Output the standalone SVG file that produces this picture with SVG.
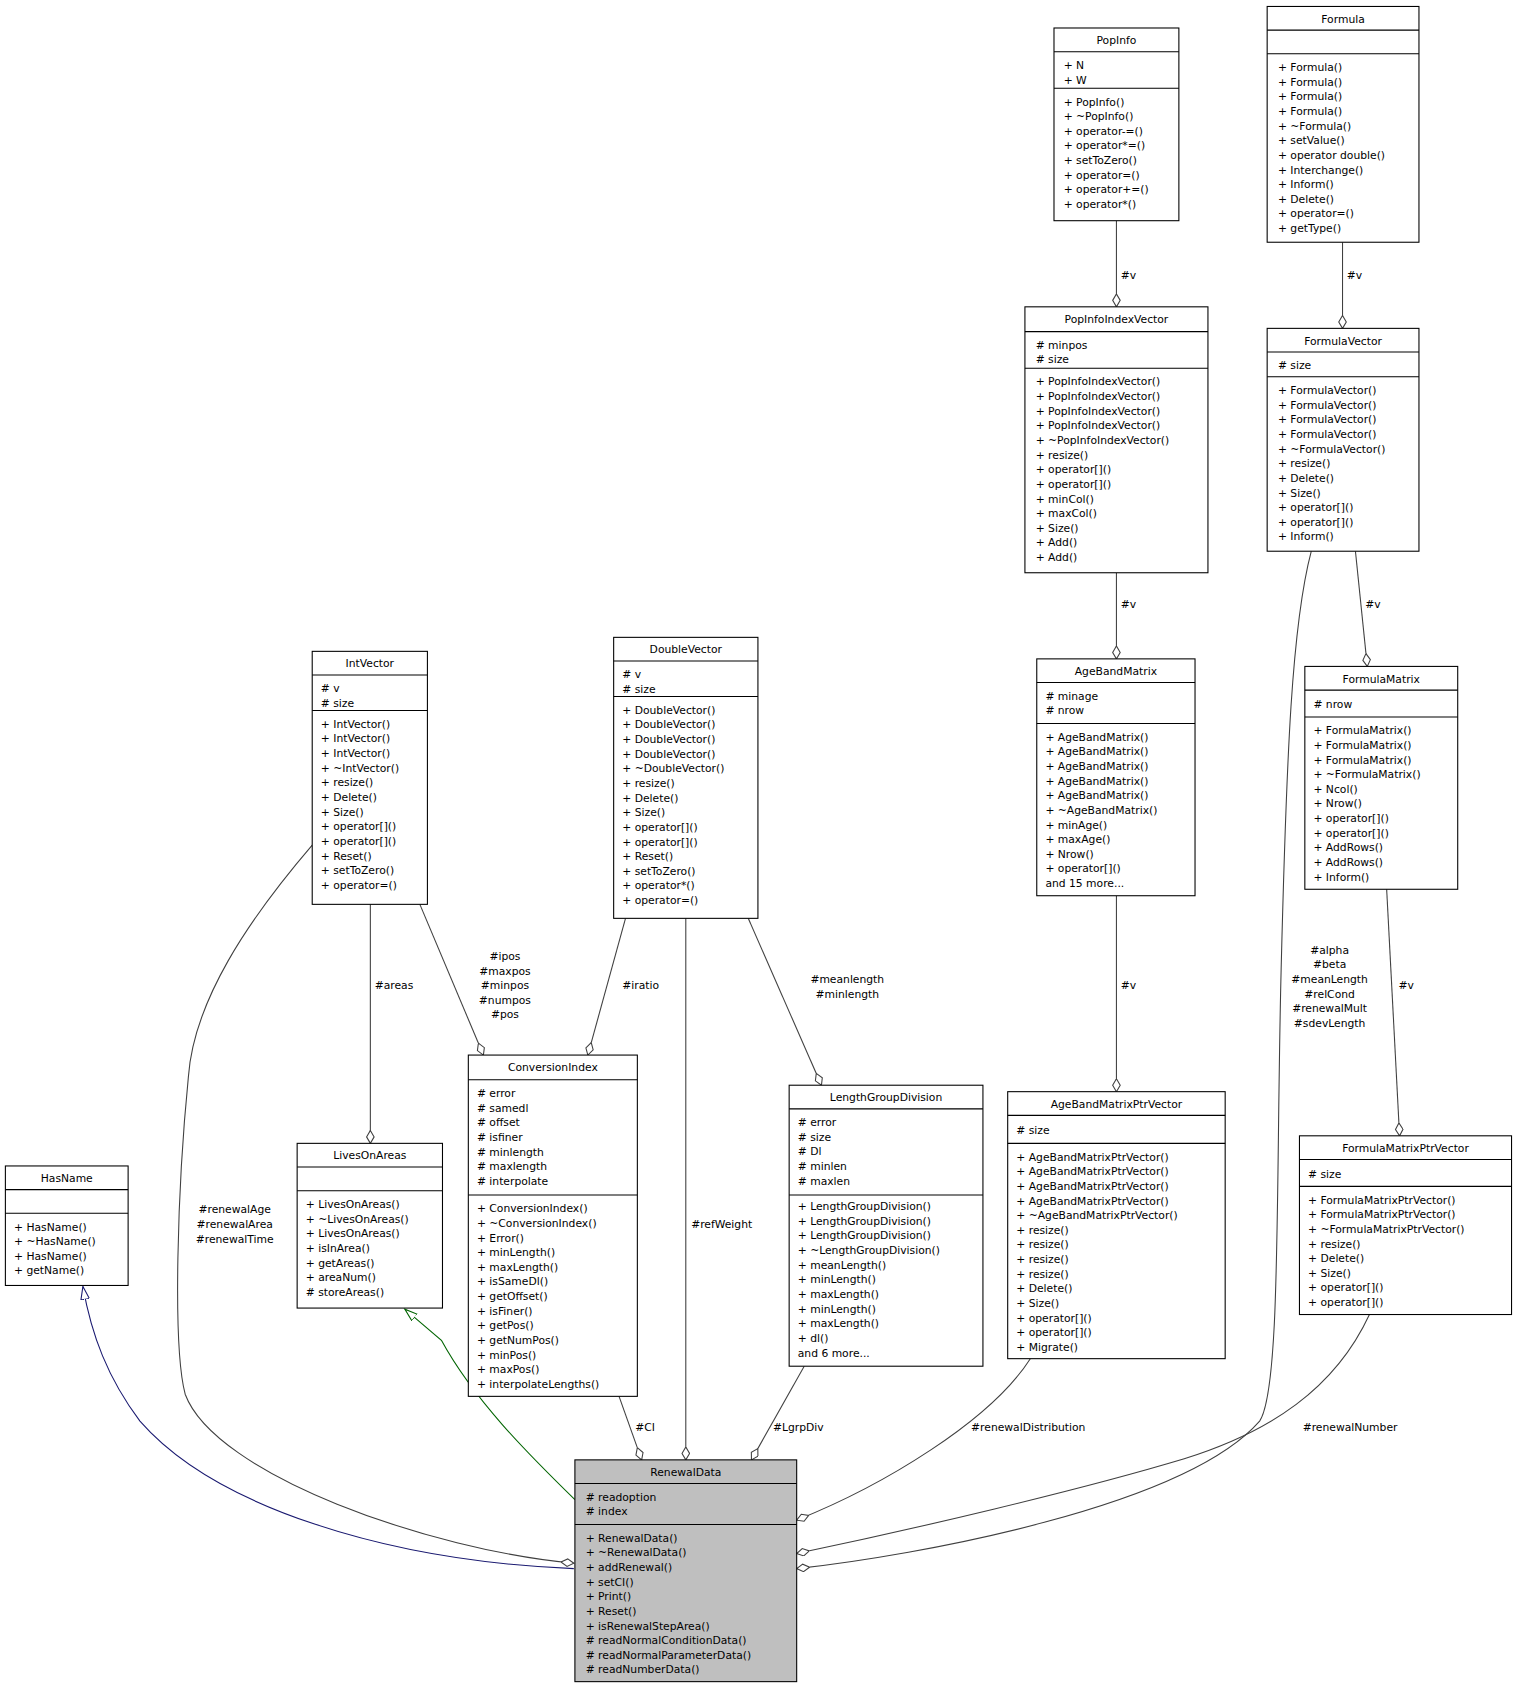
<svg xmlns="http://www.w3.org/2000/svg" width="1518" height="1689" viewBox="0 0 1518 1689">
<style>
text{font-family:"DejaVu Sans","Liberation Sans",sans-serif;font-size:10px;fill:#000}
.t{text-anchor:middle}
.b{fill:#fff;stroke:#000;stroke-width:1}
.g{fill:#bfbfbf}
.e{fill:none;stroke:#404040;stroke-width:1}
.l{text-anchor:middle}
</style>
<defs>
<marker id="d" markerUnits="userSpaceOnUse" markerWidth="14" markerHeight="10" refX="12" refY="4" orient="auto"><path d="M0,4 L6,0.5 L12,4 L6,7.5 z" fill="#fff" stroke="#404040"/></marker>
<marker id="tn" markerUnits="userSpaceOnUse" markerWidth="14" markerHeight="10" refX="12" refY="4.5" orient="auto"><path d="M0,0.5 L12,4.5 L0,8.5 z" fill="#fff" stroke="#191970"/></marker>
<marker id="tg" markerUnits="userSpaceOnUse" markerWidth="14" markerHeight="10" refX="12" refY="4.5" orient="auto"><path d="M0,0.5 L12,4.5 L0,8.5 z" fill="#fff" stroke="#006400"/></marker>
</defs>
<rect width="1518" height="1689" fill="#fff"/>
<g transform="scale(1.0766)">
<g id="edges">
<path d="M533,1457 C360,1450 200,1400 130,1320 C100,1280 85,1240 77,1195" fill="none" stroke="#191970" marker-end="url(#tn)"/>
<path d="M534,1393 C490,1350 440,1300 410,1245 L376,1216" fill="none" stroke="#006400" marker-end="url(#tg)"/>
<path class="e" d="M290,785 C230,855 180,930 175,1000 C165,1100 160,1250 172,1295 C200,1370 400,1440 533,1452" marker-end="url(#d)"/>
<text class="l" x="218" y="1127">#renewalAge</text><text class="l" x="218" y="1141">#renewalArea</text><text class="l" x="218" y="1155">#renewalTime</text>
<path class="e" d="M344,840 L344,1062" marker-end="url(#d)"/>
<text x="348" y="919">#areas</text>
<path class="e" d="M390,840 L449,980" marker-end="url(#d)"/>
<text class="l" x="469" y="892">#ipos</text><text class="l" x="469" y="906">#maxpos</text><text class="l" x="469" y="919">#minpos</text><text class="l" x="469" y="933">#numpos</text><text class="l" x="469" y="946">#pos</text>
<path class="e" d="M581,853 L546,980" marker-end="url(#d)"/>
<text x="578" y="919">#iratio</text>
<path class="e" d="M637,853 L637,1356" marker-end="url(#d)"/>
<text x="642" y="1141">#refWeight</text>
<path class="e" d="M695,853 L763,1008" marker-end="url(#d)"/>
<text class="l" x="787" y="913">#meanlength</text><text class="l" x="787" y="927">#minlength</text>
<path class="e" d="M575,1297 L596,1356" marker-end="url(#d)"/>
<text x="590" y="1329">#CI</text>
<path class="e" d="M747,1269 L698,1356" marker-end="url(#d)"/>
<text x="718" y="1329">#LgrpDiv</text>
<path class="e" d="M957,1262 C920,1320 820,1380 740,1412" marker-end="url(#d)"/>
<text x="902" y="1329">#renewalDistribution</text>
<path class="e" d="M1272,1221 C1240,1290 1180,1330 1100,1355 C1000,1385 850,1420 740,1443" marker-end="url(#d)"/>
<text x="1210" y="1329">#renewalNumber</text>
<path class="e" d="M1218,512 C1200,580 1195,700 1190,900 C1185,1100 1190,1290 1170,1320 C1100,1400 850,1445 740,1457" marker-end="url(#d)"/>
<text class="l" x="1235" y="886">#alpha</text><text class="l" x="1235" y="899">#beta</text><text class="l" x="1235" y="913">#meanLength</text><text class="l" x="1235" y="927">#relCond</text><text class="l" x="1235" y="940">#renewalMult</text><text class="l" x="1235" y="954">#sdevLength</text>
<path class="e" d="M1037,832 L1037,1014" marker-end="url(#d)"/>
<text x="1041" y="919">#v</text>
<path class="e" d="M1288,826 L1300,1055" marker-end="url(#d)"/>
<text x="1299" y="919">#v</text>
<path class="e" d="M1037,532 L1037,612" marker-end="url(#d)"/>
<text x="1041" y="565">#v</text>
<path class="e" d="M1259,512 L1270,619" marker-end="url(#d)"/>
<text x="1268" y="565">#v</text>
<path class="e" d="M1037,205 L1037,285" marker-end="url(#d)"/>
<text x="1041" y="259">#v</text>
<path class="e" d="M1247,225 L1247,305" marker-end="url(#d)"/>
<text x="1251" y="259">#v</text>
</g>

<g id="HasName">
<rect class="b" x="5" y="1083" width="114" height="111"/>
<path d="M5,1105 H119 M5,1127 H119" stroke="#000"/>
<text class="t" x="62" y="1098">HasName</text>
<text x="13" y="1143"><tspan x="13">+ HasName()</tspan><tspan x="13" dy="13.6">+ ~HasName()</tspan><tspan x="13" dy="13.6">+ HasName()</tspan><tspan x="13" dy="13.6">+ getName()</tspan></text>
</g>

<g id="LivesOnAreas">
<rect class="b" x="276" y="1062" width="135" height="153"/>
<path d="M276,1084 H411 M276,1106 H411" stroke="#000"/>
<text class="t" x="343.5" y="1077">LivesOnAreas</text>
<text x="284" y="1122"><tspan x="284">+ LivesOnAreas()</tspan><tspan x="284" dy="13.6">+ ~LivesOnAreas()</tspan><tspan x="284" dy="13.6">+ LivesOnAreas()</tspan><tspan x="284" dy="13.6">+ isInArea()</tspan><tspan x="284" dy="13.6">+ getAreas()</tspan><tspan x="284" dy="13.6">+ areaNum()</tspan><tspan x="284" dy="13.6"># storeAreas()</tspan></text>
</g>

<g id="IntVector">
<rect class="b" x="290" y="605" width="107" height="235"/>
<path d="M290,627 H397 M290,660 H397" stroke="#000"/>
<text class="t" x="343.5" y="620">IntVector</text>
<text x="298" y="643"><tspan x="298"># v</tspan><tspan x="298" dy="13.6"># size</tspan></text>
<text x="298" y="676"><tspan x="298">+ IntVector()</tspan><tspan x="298" dy="13.6">+ IntVector()</tspan><tspan x="298" dy="13.6">+ IntVector()</tspan><tspan x="298" dy="13.6">+ ~IntVector()</tspan><tspan x="298" dy="13.6">+ resize()</tspan><tspan x="298" dy="13.6">+ Delete()</tspan><tspan x="298" dy="13.6">+ Size()</tspan><tspan x="298" dy="13.6">+ operator[]()</tspan><tspan x="298" dy="13.6">+ operator[]()</tspan><tspan x="298" dy="13.6">+ Reset()</tspan><tspan x="298" dy="13.6">+ setToZero()</tspan><tspan x="298" dy="13.6">+ operator=()</tspan></text>
</g>

<g id="DoubleVector">
<rect class="b" x="570" y="592" width="134" height="261"/>
<path d="M570,614 H704 M570,647 H704" stroke="#000"/>
<text class="t" x="637" y="607">DoubleVector</text>
<text x="578" y="630"><tspan x="578"># v</tspan><tspan x="578" dy="13.6"># size</tspan></text>
<text x="578" y="663"><tspan x="578">+ DoubleVector()</tspan><tspan x="578" dy="13.6">+ DoubleVector()</tspan><tspan x="578" dy="13.6">+ DoubleVector()</tspan><tspan x="578" dy="13.6">+ DoubleVector()</tspan><tspan x="578" dy="13.6">+ ~DoubleVector()</tspan><tspan x="578" dy="13.6">+ resize()</tspan><tspan x="578" dy="13.6">+ Delete()</tspan><tspan x="578" dy="13.6">+ Size()</tspan><tspan x="578" dy="13.6">+ operator[]()</tspan><tspan x="578" dy="13.6">+ operator[]()</tspan><tspan x="578" dy="13.6">+ Reset()</tspan><tspan x="578" dy="13.6">+ setToZero()</tspan><tspan x="578" dy="13.6">+ operator*()</tspan><tspan x="578" dy="13.6">+ operator=()</tspan></text>
</g>

<g id="ConversionIndex">
<rect class="b" x="435" y="980" width="157" height="317"/>
<path d="M435,1003 H592 M435,1110 H592" stroke="#000"/>
<text class="t" x="513.5" y="995">ConversionIndex</text>
<text x="443" y="1019"><tspan x="443"># error</tspan><tspan x="443" dy="13.6"># samedl</tspan><tspan x="443" dy="13.6"># offset</tspan><tspan x="443" dy="13.6"># isfiner</tspan><tspan x="443" dy="13.6"># minlength</tspan><tspan x="443" dy="13.6"># maxlength</tspan><tspan x="443" dy="13.6"># interpolate</tspan></text>
<text x="443" y="1126"><tspan x="443">+ ConversionIndex()</tspan><tspan x="443" dy="13.6">+ ~ConversionIndex()</tspan><tspan x="443" dy="13.6">+ Error()</tspan><tspan x="443" dy="13.6">+ minLength()</tspan><tspan x="443" dy="13.6">+ maxLength()</tspan><tspan x="443" dy="13.6">+ isSameDl()</tspan><tspan x="443" dy="13.6">+ getOffset()</tspan><tspan x="443" dy="13.6">+ isFiner()</tspan><tspan x="443" dy="13.6">+ getPos()</tspan><tspan x="443" dy="13.6">+ getNumPos()</tspan><tspan x="443" dy="13.6">+ minPos()</tspan><tspan x="443" dy="13.6">+ maxPos()</tspan><tspan x="443" dy="13.6">+ interpolateLengths()</tspan></text>
</g>

<g id="LengthGroupDivision">
<rect class="b" x="733" y="1008" width="180" height="261"/>
<path d="M733,1030 H913 M733,1110 H913" stroke="#000"/>
<text class="t" x="823" y="1023">LengthGroupDivision</text>
<text x="741" y="1046"><tspan x="741"># error</tspan><tspan x="741" dy="13.6"># size</tspan><tspan x="741" dy="13.6"># Dl</tspan><tspan x="741" dy="13.6"># minlen</tspan><tspan x="741" dy="13.6"># maxlen</tspan></text>
<text x="741" y="1124"><tspan x="741">+ LengthGroupDivision()</tspan><tspan x="741" dy="13.6">+ LengthGroupDivision()</tspan><tspan x="741" dy="13.6">+ LengthGroupDivision()</tspan><tspan x="741" dy="13.6">+ ~LengthGroupDivision()</tspan><tspan x="741" dy="13.6">+ meanLength()</tspan><tspan x="741" dy="13.6">+ minLength()</tspan><tspan x="741" dy="13.6">+ maxLength()</tspan><tspan x="741" dy="13.6">+ minLength()</tspan><tspan x="741" dy="13.6">+ maxLength()</tspan><tspan x="741" dy="13.6">+ dl()</tspan><tspan x="741" dy="13.6">and 6 more...</tspan></text>
</g>

<g id="AgeBandMatrixPtrVector">
<rect class="b" x="936" y="1014" width="202" height="248"/>
<path d="M936,1036 H1138 M936,1062 H1138" stroke="#000"/>
<text class="t" x="1037" y="1029">AgeBandMatrixPtrVector</text>
<text x="944" y="1053"># size</text>
<text x="944" y="1078"><tspan x="944">+ AgeBandMatrixPtrVector()</tspan><tspan x="944" dy="13.6">+ AgeBandMatrixPtrVector()</tspan><tspan x="944" dy="13.6">+ AgeBandMatrixPtrVector()</tspan><tspan x="944" dy="13.6">+ AgeBandMatrixPtrVector()</tspan><tspan x="944" dy="13.6">+ ~AgeBandMatrixPtrVector()</tspan><tspan x="944" dy="13.6">+ resize()</tspan><tspan x="944" dy="13.6">+ resize()</tspan><tspan x="944" dy="13.6">+ resize()</tspan><tspan x="944" dy="13.6">+ resize()</tspan><tspan x="944" dy="13.6">+ Delete()</tspan><tspan x="944" dy="13.6">+ Size()</tspan><tspan x="944" dy="13.6">+ operator[]()</tspan><tspan x="944" dy="13.6">+ operator[]()</tspan><tspan x="944" dy="13.6">+ Migrate()</tspan></text>
</g>

<g id="FormulaMatrixPtrVector">
<rect class="b" x="1207" y="1055" width="197" height="166"/>
<path d="M1207,1077 H1404 M1207,1102 H1404" stroke="#000"/>
<text class="t" x="1305.5" y="1070">FormulaMatrixPtrVector</text>
<text x="1215" y="1094"># size</text>
<text x="1215" y="1118"><tspan x="1215">+ FormulaMatrixPtrVector()</tspan><tspan x="1215" dy="13.6">+ FormulaMatrixPtrVector()</tspan><tspan x="1215" dy="13.6">+ ~FormulaMatrixPtrVector()</tspan><tspan x="1215" dy="13.6">+ resize()</tspan><tspan x="1215" dy="13.6">+ Delete()</tspan><tspan x="1215" dy="13.6">+ Size()</tspan><tspan x="1215" dy="13.6">+ operator[]()</tspan><tspan x="1215" dy="13.6">+ operator[]()</tspan></text>
</g>

<g id="AgeBandMatrix">
<rect class="b" x="963" y="612" width="147" height="220"/>
<path d="M963,634 H1110 M963,672 H1110" stroke="#000"/>
<text class="t" x="1036.5" y="627">AgeBandMatrix</text>
<text x="971" y="650"><tspan x="971"># minage</tspan><tspan x="971" dy="13.6"># nrow</tspan></text>
<text x="971" y="688"><tspan x="971">+ AgeBandMatrix()</tspan><tspan x="971" dy="13.6">+ AgeBandMatrix()</tspan><tspan x="971" dy="13.6">+ AgeBandMatrix()</tspan><tspan x="971" dy="13.6">+ AgeBandMatrix()</tspan><tspan x="971" dy="13.6">+ AgeBandMatrix()</tspan><tspan x="971" dy="13.6">+ ~AgeBandMatrix()</tspan><tspan x="971" dy="13.6">+ minAge()</tspan><tspan x="971" dy="13.6">+ maxAge()</tspan><tspan x="971" dy="13.6">+ Nrow()</tspan><tspan x="971" dy="13.6">+ operator[]()</tspan><tspan x="971" dy="13.6">and 15 more...</tspan></text>
</g>

<g id="FormulaMatrix">
<rect class="b" x="1212" y="619" width="142" height="207"/>
<path d="M1212,641 H1354 M1212,666 H1354" stroke="#000"/>
<text class="t" x="1283" y="634">FormulaMatrix</text>
<text x="1220" y="658"># nrow</text>
<text x="1220" y="682"><tspan x="1220">+ FormulaMatrix()</tspan><tspan x="1220" dy="13.6">+ FormulaMatrix()</tspan><tspan x="1220" dy="13.6">+ FormulaMatrix()</tspan><tspan x="1220" dy="13.6">+ ~FormulaMatrix()</tspan><tspan x="1220" dy="13.6">+ Ncol()</tspan><tspan x="1220" dy="13.6">+ Nrow()</tspan><tspan x="1220" dy="13.6">+ operator[]()</tspan><tspan x="1220" dy="13.6">+ operator[]()</tspan><tspan x="1220" dy="13.6">+ AddRows()</tspan><tspan x="1220" dy="13.6">+ AddRows()</tspan><tspan x="1220" dy="13.6">+ Inform()</tspan></text>
</g>

<g id="PopInfoIndexVector">
<rect class="b" x="952" y="285" width="170" height="247"/>
<path d="M952,308 H1122 M952,342 H1122" stroke="#000"/>
<text class="t" x="1037" y="300">PopInfoIndexVector</text>
<text x="962" y="324"><tspan x="962"># minpos</tspan><tspan x="962" dy="13.6"># size</tspan></text>
<text x="962" y="358"><tspan x="962">+ PopInfoIndexVector()</tspan><tspan x="962" dy="13.6">+ PopInfoIndexVector()</tspan><tspan x="962" dy="13.6">+ PopInfoIndexVector()</tspan><tspan x="962" dy="13.6">+ PopInfoIndexVector()</tspan><tspan x="962" dy="13.6">+ ~PopInfoIndexVector()</tspan><tspan x="962" dy="13.6">+ resize()</tspan><tspan x="962" dy="13.6">+ operator[]()</tspan><tspan x="962" dy="13.6">+ operator[]()</tspan><tspan x="962" dy="13.6">+ minCol()</tspan><tspan x="962" dy="13.6">+ maxCol()</tspan><tspan x="962" dy="13.6">+ Size()</tspan><tspan x="962" dy="13.6">+ Add()</tspan><tspan x="962" dy="13.6">+ Add()</tspan></text>
</g>

<g id="FormulaVector">
<rect class="b" x="1177" y="305" width="141" height="207"/>
<path d="M1177,327 H1318 M1177,350 H1318" stroke="#000"/>
<text class="t" x="1247.5" y="320">FormulaVector</text>
<text x="1187" y="343"># size</text>
<text x="1187" y="366"><tspan x="1187">+ FormulaVector()</tspan><tspan x="1187" dy="13.6">+ FormulaVector()</tspan><tspan x="1187" dy="13.6">+ FormulaVector()</tspan><tspan x="1187" dy="13.6">+ FormulaVector()</tspan><tspan x="1187" dy="13.6">+ ~FormulaVector()</tspan><tspan x="1187" dy="13.6">+ resize()</tspan><tspan x="1187" dy="13.6">+ Delete()</tspan><tspan x="1187" dy="13.6">+ Size()</tspan><tspan x="1187" dy="13.6">+ operator[]()</tspan><tspan x="1187" dy="13.6">+ operator[]()</tspan><tspan x="1187" dy="13.6">+ Inform()</tspan></text>
</g>

<g id="PopInfo">
<rect class="b" x="979" y="26" width="116" height="179"/>
<path d="M979,48 H1095 M979,82 H1095" stroke="#000"/>
<text class="t" x="1037" y="41">PopInfo</text>
<text x="988" y="64"><tspan x="988">+ N</tspan><tspan x="988" dy="13.6">+ W</tspan></text>
<text x="988" y="98"><tspan x="988">+ PopInfo()</tspan><tspan x="988" dy="13.6">+ ~PopInfo()</tspan><tspan x="988" dy="13.6">+ operator-=()</tspan><tspan x="988" dy="13.6">+ operator*=()</tspan><tspan x="988" dy="13.6">+ setToZero()</tspan><tspan x="988" dy="13.6">+ operator=()</tspan><tspan x="988" dy="13.6">+ operator+=()</tspan><tspan x="988" dy="13.6">+ operator*()</tspan></text>
</g>

<g id="Formula">
<rect class="b" x="1177" y="6" width="141" height="219"/>
<path d="M1177,28 H1318 M1177,50 H1318" stroke="#000"/>
<text class="t" x="1247.5" y="21">Formula</text>
<text x="1187" y="66"><tspan x="1187">+ Formula()</tspan><tspan x="1187" dy="13.6">+ Formula()</tspan><tspan x="1187" dy="13.6">+ Formula()</tspan><tspan x="1187" dy="13.6">+ Formula()</tspan><tspan x="1187" dy="13.6">+ ~Formula()</tspan><tspan x="1187" dy="13.6">+ setValue()</tspan><tspan x="1187" dy="13.6">+ operator double()</tspan><tspan x="1187" dy="13.6">+ Interchange()</tspan><tspan x="1187" dy="13.6">+ Inform()</tspan><tspan x="1187" dy="13.6">+ Delete()</tspan><tspan x="1187" dy="13.6">+ operator=()</tspan><tspan x="1187" dy="13.6">+ getType()</tspan></text>
</g>

<g id="RenewalData">
<rect class="b g" x="534" y="1356" width="206" height="206"/>
<path d="M534,1378 H740 M534,1416 H740" stroke="#000"/>
<text class="t" x="637" y="1371">RenewalData</text>
<text x="544" y="1394"><tspan x="544"># readoption</tspan><tspan x="544" dy="13.6"># index</tspan></text>
<text x="544" y="1432"><tspan x="544">+ RenewalData()</tspan><tspan x="544" dy="13.6">+ ~RenewalData()</tspan><tspan x="544" dy="13.6">+ addRenewal()</tspan><tspan x="544" dy="13.6">+ setCI()</tspan><tspan x="544" dy="13.6">+ Print()</tspan><tspan x="544" dy="13.6">+ Reset()</tspan><tspan x="544" dy="13.6">+ isRenewalStepArea()</tspan><tspan x="544" dy="13.6"># readNormalConditionData()</tspan><tspan x="544" dy="13.6"># readNormalParameterData()</tspan><tspan x="544" dy="13.6"># readNumberData()</tspan></text>
</g>
</g>
</svg>
